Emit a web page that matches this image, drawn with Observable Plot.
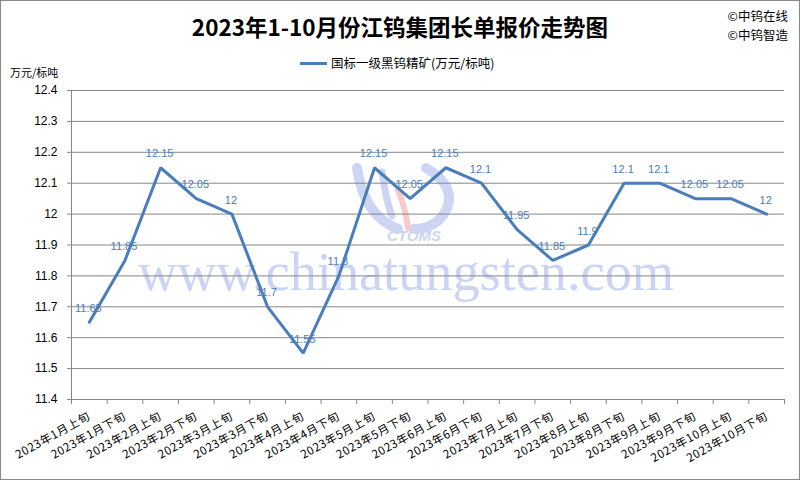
<!DOCTYPE html>
<html>
<head>
<meta charset="utf-8">
<script src="https://cdn.jsdelivr.net/npm/d3@7"></script>
<script src="https://cdn.jsdelivr.net/npm/@observablehq/plot@0.6"></script>
<style>
  html, body { margin: 0; padding: 0; background: #fff; }
  #wrap { position: relative; width: 800px; height: 480px; overflow: hidden; background: #fff;
          font-family: "Liberation Sans", "Noto Sans CJK SC", sans-serif; }
  #wm { position: absolute; left: 0; top: 0; z-index: 0; }
  #chart { position: absolute; left: 0; top: 0; z-index: 1; }
  #chart [aria-label="x-axis tick label"] { letter-spacing: 0.6px; }
  #frame { position: absolute; left: 0; top: 0; width: 800px; height: 480px; box-sizing: border-box;
           border: 1px solid #8a8a8a; z-index: 3; pointer-events: none; }
  .abs { position: absolute; z-index: 2; white-space: nowrap; color: #000; }
  #title { left: 0; width: 800px; top: 12px; text-align: center; font-size: 22.5px; font-weight: bold;
           font-family: "Noto Sans CJK SC", sans-serif; line-height: 28px; }
  #brand { right: 12px; top: 6px; font-size: 12.5px; line-height: 19px; font-family: "Noto Sans CJK SC", sans-serif; }
  #legend { left: 300px; top: 54px; font-size: 12.5px; line-height: 18px; font-family: "Noto Sans CJK SC", sans-serif; display: flex; align-items: center; }
  #legend .sw { display: inline-block; width: 27px; height: 3px; background: #4a7ebb; margin-right: 4px; }
  #unit { left: 10px; top: 64px; font-size: 11px; line-height: 16px; font-family: "Noto Sans CJK SC", sans-serif; }
</style>
</head>
<body>
<div id="wrap">
  <svg id="wm" width="800" height="480">
    <g opacity="0.45">
      <path d="M357,168 Q364,216 398,229" fill="none" stroke="#8fa3e6" stroke-width="10" stroke-linecap="round"/>
      <path d="M382,172 Q386,200 392,216" fill="none" stroke="#8fa3e6" stroke-width="7" stroke-linecap="round"/>
      <path d="M426,168 Q460,188 444,214 Q433,229 414,229" fill="none" stroke="#8fa3e6" stroke-width="10" stroke-linecap="round"/>
      <path d="M398,190 Q406,210 408,228" fill="none" stroke="#f08a8a" stroke-width="6" stroke-linecap="round"/>
      <text x="387" y="241" font-family="Liberation Sans, sans-serif" font-size="15" font-weight="bold" font-style="italic" fill="#8fa3e6">CTOMS</text>
    </g>
    <text x="138" y="290" textLength="536" lengthAdjust="spacingAndGlyphs" font-family="Liberation Serif, DejaVu Serif, serif" font-size="54" fill="#bcc6f3" opacity="0.75">www.chinatungsten.com</text>
  </svg>
  <div id="chart"></div>
  <div class="abs" id="title">2023年1-10月份江钨集团长单报价走势图</div>
  <div class="abs" id="brand">©中钨在线<br>©中钨智造</div>
  <div class="abs" id="legend"><span class="sw"></span>国标一级黑钨精矿(万元/标吨)</div>
  <div class="abs" id="unit">万元/标吨</div>
  <div id="frame"></div>
</div>
<script>
const categories = [
  "2023年1月上旬", "2023年1月下旬", "2023年2月上旬", "2023年2月下旬",
  "2023年3月上旬", "2023年3月下旬", "2023年4月上旬", "2023年4月下旬",
  "2023年5月上旬", "2023年5月下旬", "2023年6月上旬", "2023年6月下旬",
  "2023年7月上旬", "2023年7月下旬", "2023年8月上旬", "2023年8月下旬",
  "2023年9月上旬", "2023年9月下旬", "2023年10月上旬", "2023年10月下旬"
];
const prices = [
  11.65, 11.85, 12.15, 12.05, 12, 11.7, 11.55, 11.8, 12.15, 12.05,
  12.15, 12.1, 11.95, 11.85, 11.9, 12.1, 12.1, 12.05, 12.05, 12
];
const yTicks = [11.4, 11.5, 11.6, 11.7, 11.8, 11.9, 12, 12.1, 12.2, 12.3, 12.4];
const yTickLabels = ["11.4", "11.5", "11.6", "11.7", "11.8", "11.9", "12", "12.1", "12.2", "12.3", "12.4"];

const data = categories.map((c, i) => ({ i, cat: c, v: prices[i] }));
const idx = d3.range(categories.length);
const bounds = d3.range(categories.length + 1).map(k => k - 0.5);
const grey = "#868686";
const blue = "#4a7ebb";

const chart = Plot.plot({
  width: 800,
  height: 480,
  marginLeft: 71,
  marginRight: 16,
  marginTop: 90,
  marginBottom: 81,
  style: { background: "transparent", fontFamily: "'Liberation Sans', 'Noto Sans CJK SC', sans-serif", overflow: "visible" },
  x: { type: "linear", domain: [-0.5, categories.length - 0.5], axis: null },
  y: { domain: [11.4, 12.4], axis: null },
  marks: [
    Plot.gridY(yTicks, { stroke: grey, strokeOpacity: 1, strokeWidth: 1 }),
    Plot.ruleX([-0.5], { stroke: grey }),
    Plot.ruleY([11.4], { stroke: grey }),
    Plot.axisY(yTicks, {
      label: null, tickSize: 4, tickPadding: 10, stroke: grey, fill: "#000", fontSize: 12,
      tickFormat: d => yTickLabels[yTicks.indexOf(d)]
    }),
    Plot.axisX(bounds, { label: null, tickSize: 5, stroke: grey, tickFormat: () => "" }),
    Plot.axisX(idx, {
      label: null, tickSize: 0, tickPadding: 16, tickRotate: -29, fill: "#000", fontSize: 11.5,
      fontFamily: "'Noto Sans CJK SC', sans-serif", dx: 0,
      tickFormat: i => categories[i]
    }),
    Plot.line(data, { x: "i", y: "v", stroke: blue, strokeWidth: 3, strokeLinejoin: "miter" }),
    Plot.text(data, { x: "i", y: "v", text: d => String(d.v), dy: -14, dx: -1, fill: blue, fontSize: 11 })
  ]
});
document.getElementById("chart").appendChild(chart);
</script>
</body>
</html>
